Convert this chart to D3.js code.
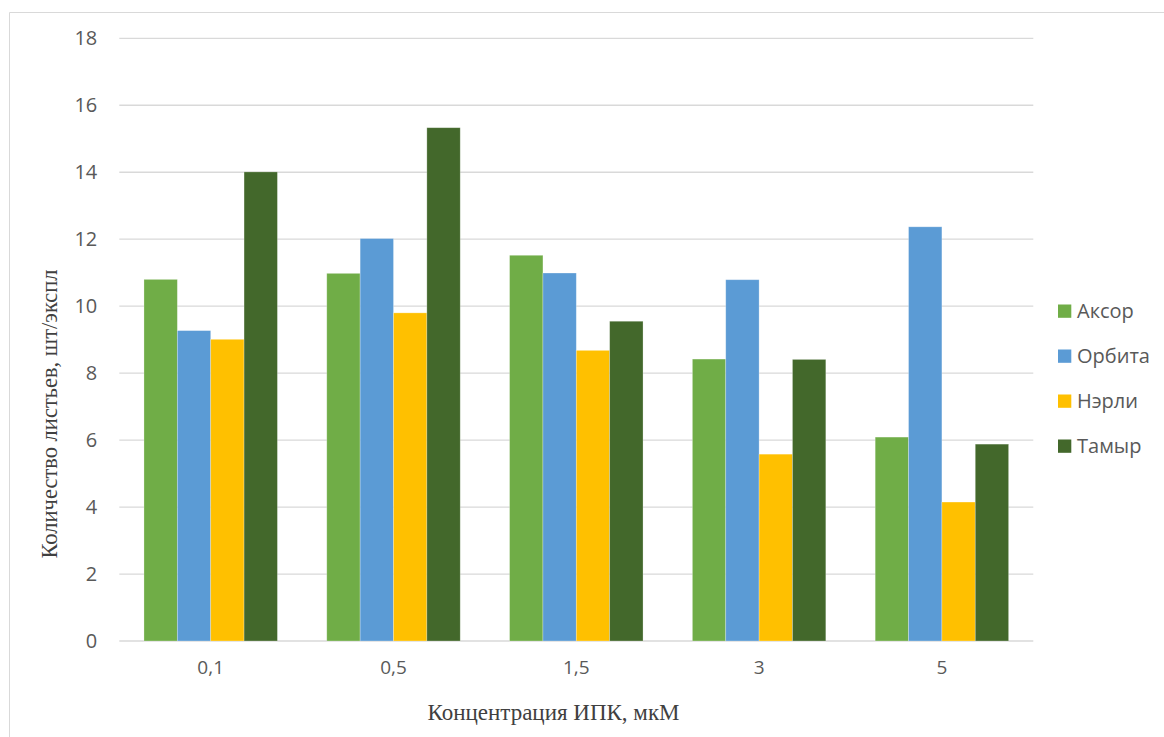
<!DOCTYPE html>
<html>
<head>
<meta charset="utf-8">
<script src="https://cdn.jsdelivr.net/npm/d3@7"></script>
<style>
  html, body { margin: 0; padding: 0; background: #fff; }
  svg { display: block; }
</style>
</head>
<body>
<script>
// Concentrations of IPK (x categories), series = cultivars
const categories = ["0,1", "0,5", "1,5", "3", "5"];
const seriesNames = ["Аксор", "Орбита", "Нэрли", "Тамыр"];
const aksor  = [10.8, 10.98, 11.52, 8.42, 6.09];
const orbita = [9.27, 12.02, 10.99, 10.79, 12.37];
const nerli  = [9.01, 9.8, 8.68, 5.58, 4.15];
const tamyr  = [14.01, 15.33, 9.55, 8.41, 5.88];
const yTicks = [0, 2, 4, 6, 8, 10, 12, 14, 16, 18];
const colors = ["#70AD47", "#5B9BD5", "#FFC000", "#43682B"];

const seriesValues = [aksor, orbita, nerli, tamyr];

const W = 1164, H = 737;
const plot = { left: 119.3, right: 1033.3, top: 38.3, bottom: 641 };

const svg = d3.select("body").append("svg")
  .attr("width", W).attr("height", H);

// chart frame (top and left edges visible)
svg.append("path")
  .attr("d", `M9.5,${H} V12.5 H${W}`)
  .attr("fill", "none").attr("stroke", "#d9d9d9").attr("stroke-width", 1);

const x0 = d3.scaleBand().domain(categories)
  .range([plot.left, plot.right])
  .paddingInner(0.27).paddingOuter(0.135);
const x1 = d3.scaleBand().domain(seriesNames)
  .range([0, x0.bandwidth()]);
const y = d3.scaleLinear().domain([0, 18]).range([plot.bottom, plot.top]);

// gridlines
svg.append("g").selectAll("line").data(yTicks).join("line")
  .attr("x1", plot.left).attr("x2", plot.right)
  .attr("y1", d => y(d)).attr("y2", d => y(d))
  .attr("stroke", "#d9d9d9").attr("stroke-width", 1.3);

// y tick labels via axis
const yAxis = svg.append("g")
  .attr("transform", `translate(${plot.left},0)`)
  .call(d3.axisLeft(y).tickValues(yTicks).tickSize(0).tickPadding(22));
yAxis.select(".domain").remove();
yAxis.selectAll("text")
  .attr("font-family", "'Open Sans', sans-serif")
  .attr("font-size", 20)
  .attr("fill", "#595959");

// bars
const groups = svg.append("g").selectAll("g").data(categories).join("g")
  .attr("transform", d => `translate(${x0(d)},0)`);
groups.selectAll("rect")
  .data((c, i) => seriesNames.map((s, k) => ({ s, k, v: seriesValues[k][i] })))
  .join("rect")
  .attr("x", d => x1(d.s))
  .attr("y", d => y(d.v))
  .attr("width", x1.bandwidth())
  .attr("height", d => y(0) - y(d.v))
  .attr("fill", d => colors[d.k])
  .attr("stroke", "rgba(255,255,255,0.35)")
  .attr("stroke-width", 0.75);

// x axis labels
const xAxis = svg.append("g")
  .attr("transform", `translate(0,${plot.bottom})`)
  .call(d3.axisBottom(x0).tickSize(0).tickPadding(20));
xAxis.select(".domain").remove();
xAxis.selectAll("text")
  .attr("font-family", "'Open Sans', sans-serif")
  .attr("font-size", 19)
  .attr("fill", "#595959");

// axis titles
svg.append("text")
  .attr("x", 553.5).attr("y", 719.5)
  .attr("text-anchor", "middle")
  .attr("font-family", "'Liberation Serif', 'Times New Roman', serif")
  .attr("font-size", 23)
  .attr("fill", "#404040")
  .text("Концентрация ИПК, мкМ");

svg.append("text")
  .attr("transform", `translate(57,414) rotate(-90)`)
  .attr("text-anchor", "middle")
  .attr("font-family", "'Liberation Serif', 'Times New Roman', serif")
  .attr("font-size", 22.5)
  .attr("fill", "#404040")
  .text("Количество листьев, шт/экспл");

// legend
const legend = svg.append("g").selectAll("g").data(seriesNames).join("g")
  .attr("transform", (d, i) => `translate(1058,${311 + i * 45})`);
legend.append("rect")
  .attr("x", 0).attr("y", -6.5).attr("width", 13.3).attr("height", 13.3)
  .attr("fill", (d, i) => colors[i]);
legend.append("text")
  .attr("x", 19).attr("y", 0).attr("dy", "0.35em")
  .attr("font-family", "'Open Sans', sans-serif")
  .attr("font-size", 20)
  .attr("fill", "#595959")
  .text(d => d);
</script>
</body>
</html>
